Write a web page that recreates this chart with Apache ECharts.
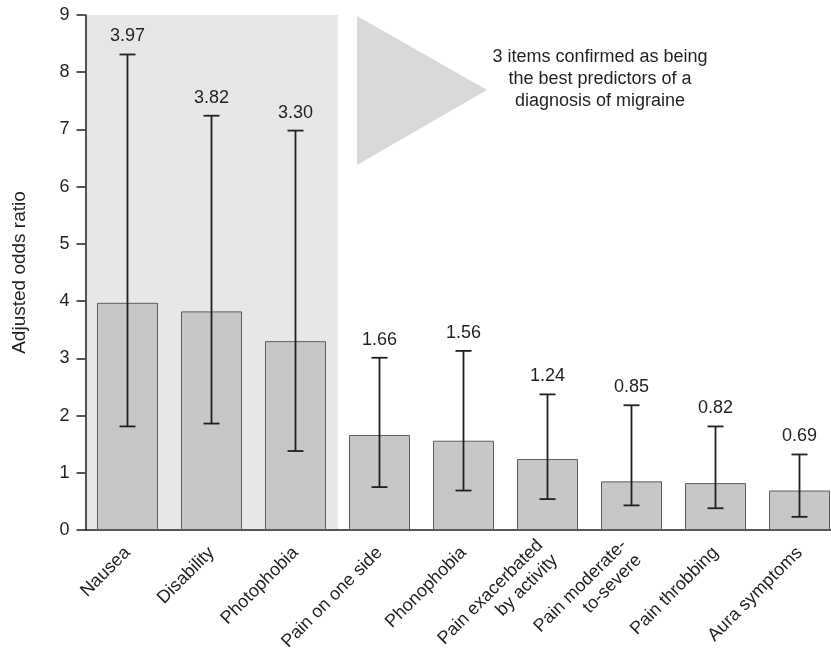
<!DOCTYPE html>
<html><head><meta charset="utf-8">
<script src="https://cdn.jsdelivr.net/npm/echarts@6/dist/echarts.min.js"></script>
<style>html,body{margin:0;padding:0;background:#fff}#c{width:831px;height:650px}</style>
</head><body><div id="c"></div>
<script>
const categories = ['Nausea', 'Disability', 'Photophobia', 'Pain on one side', 'Phonophobia',
  'Pain exacerbated\nby activity', 'Pain moderate-\nto-severe', 'Pain throbbing', 'Aura symptoms'];
const oddsRatios = [3.97, 3.82, 3.30, 1.66, 1.56, 1.24, 0.85, 0.82, 0.69];
const ciLower = [1.81, 1.86, 1.38, 0.75, 0.69, 0.54, 0.43, 0.38, 0.23];
const ciUpper = [8.31, 7.24, 6.98, 3.01, 3.13, 2.37, 2.18, 1.81, 1.32];
const highlightedIdx = [0, 1, 2];
const yMin = 0, yMax = 9, yStep = 1;
const yAxisTitle = 'Adjusted odds ratio';
const annotationText = '3 items confirmed as being\nthe best predictors of a\ndiagnosis of migraine';

const FONT = '"Liberation Sans", Arial, Helvetica, sans-serif';
const INK = '#231f20';

const chart = echarts.init(document.getElementById('c'), null, { renderer: 'canvas' });

const option = {
  animation: false,
  backgroundColor: '#ffffff',
  grid: { left: 85.5, width: 756, top: 15, bottom: 120, containLabel: false, outerBoundsMode: 'none' },
  xAxis: {
    type: 'category',
    data: categories,
    boundaryGap: true,
    axisLine: { show: true, lineStyle: { color: INK, width: 1.5 } },
    axisTick: { show: false },
    axisLabel: {
      rotate: 45, margin: 20, interval: 0,
      fontFamily: FONT, fontSize: 18, color: INK, lineHeight: 21
    },
    splitLine: { show: false }
  },
  yAxis: {
    type: 'value', min: yMin, max: yMax, interval: yStep,
    name: yAxisTitle, nameLocation: 'middle', nameGap: 56, nameRotate: 90,
    nameTextStyle: { fontFamily: FONT, fontSize: 19, color: INK },
    axisLine: { show: true, lineStyle: { color: INK, width: 1.5 } },
    axisTick: { show: true, length: 9, lineStyle: { color: INK, width: 1.5 } },
    axisLabel: { margin: 16, fontFamily: FONT, fontSize: 18, color: INK },
    splitLine: { show: false }
  },
  series: [
    {
      type: 'custom',
      z: 0,
      silent: true,
      data: highlightedIdx.map(i => [i, yMax]),
      renderItem: function (params, api) {
        const base = api.coord([api.value(0), yMin]);
        const top = api.coord([api.value(0), api.value(1)]);
        const w = api.size([1, 0])[0];
        return {
          type: 'rect',
          shape: { x: base[0] - w / 2 - 0.5, y: top[1], width: w + 1, height: base[1] - top[1] },
          style: { fill: '#e6e7e8' }
        };
      }
    },
    {
      type: 'bar',
      z: 2,
      data: oddsRatios,
      barWidth: 61,
      itemStyle: { color: '#c6c7c9', borderColor: '#5b5c5e', borderWidth: 1 }
    },
    {
      type: 'custom',
      z: 3,
      silent: true,
      data: categories.map((c, i) => [i, ciLower[i], ciUpper[i], oddsRatios[i]]),
      renderItem: function (params, api) {
        const lo = api.coord([api.value(0), api.value(1)]);
        const hi = api.coord([api.value(0), api.value(2)]);
        const cap = 8;
        const ls = { stroke: INK, lineWidth: 1.8 };
        return {
          type: 'group',
          children: [
            { type: 'line', shape: { x1: lo[0], y1: lo[1], x2: hi[0], y2: hi[1] }, style: ls },
            { type: 'line', shape: { x1: hi[0] - cap, y1: hi[1], x2: hi[0] + cap, y2: hi[1] }, style: ls },
            { type: 'line', shape: { x1: lo[0] - cap, y1: lo[1], x2: lo[0] + cap, y2: lo[1] }, style: ls },
            {
              type: 'text',
              style: {
                x: hi[0], y: hi[1] - 18,
                text: api.value(3).toFixed(2),
                textAlign: 'center', textVerticalAlign: 'middle',
                font: '18px ' + FONT, fill: INK
              }
            }
          ]
        };
      }
    }
  ],
  graphic: [
    {
      type: 'polygon', z: 1, silent: true,
      shape: { points: [[357, 16], [357, 165], [487, 90]] },
      style: { fill: '#d9d9da' }
    },
    {
      type: 'text', z: 5, silent: true,
      style: {
        x: 600, y: 79,
        text: annotationText,
        textAlign: 'center', textVerticalAlign: 'middle',
        font: '18px ' + FONT, fill: INK, lineHeight: 22
      }
    }
  ]
};
chart.setOption(option);
</script>
</body></html>
